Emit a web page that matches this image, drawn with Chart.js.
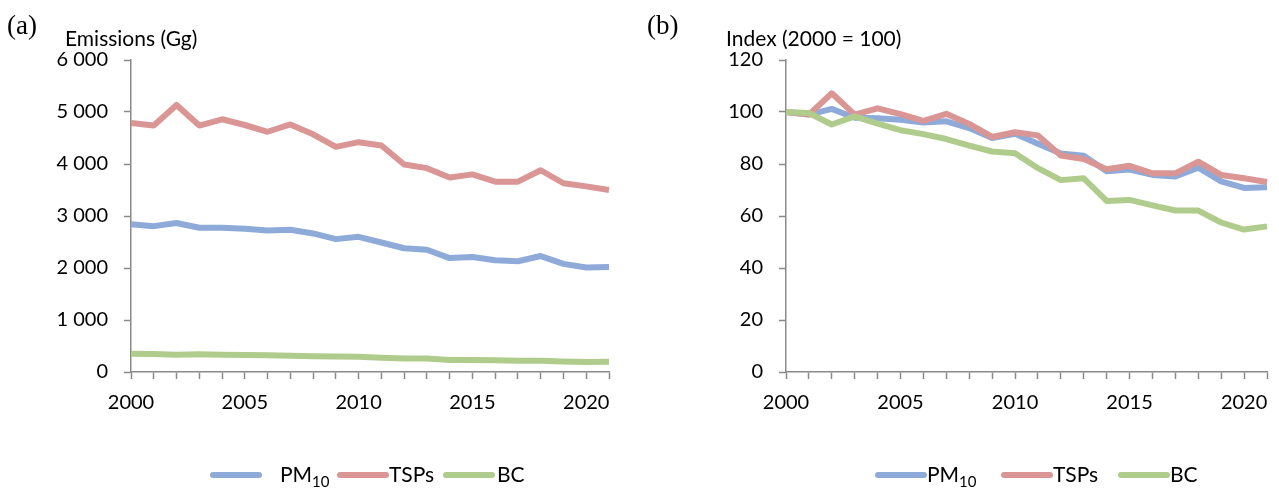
<!DOCTYPE html>
<html>
<head>
<meta charset="utf-8">
<script src="https://cdn.jsdelivr.net/npm/chart.js@4"></script>
<style>
  body { margin: 0; background: #fff; }
  #wrap { position: relative; width: 1279px; height: 489px; }
  canvas { position: absolute; top: 0; }
  #chartA { left: 0; }
  #chartB { left: 640px; }
</style>
</head>
<body>
<div id="wrap">
  <canvas id="chartA" width="640" height="489"></canvas>
  <canvas id="chartB" width="639" height="489"></canvas>
</div>
<script>
var years = ['2000','2001','2002','2003','2004','2005','2006','2007','2008','2009','2010',
             '2011','2012','2013','2014','2015','2016','2017','2018','2019','2020','2021'];

// panel (a): emissions in Gg
var pm10 = [2840, 2805, 2865, 2775, 2775, 2755, 2720, 2735, 2665, 2555, 2600,
            2490, 2380, 2350, 2190, 2210, 2150, 2130, 2230, 2080, 2010, 2020];
var tsps = [4790, 4740, 5135, 4740, 4860, 4750, 4620, 4760, 4570, 4330, 4420,
            4355, 3990, 3920, 3740, 3800, 3660, 3660, 3880, 3630, 3570, 3500];
var bc   = [350, 348, 333, 343, 334, 326, 320, 314, 305, 297, 294,
            275, 258, 261, 230, 232, 224, 217, 217, 201, 192, 196];

// panel (b): index, 2000 = 100
var pm10Index = [100, 99, 101.2, 97.8, 97.6, 97, 96, 96.4, 93.8, 90, 91.6,
                 87.8, 84, 83.2, 77.2, 77.9, 75.8, 75.2, 78.6, 73.3, 70.8, 71.1];
var tspsIndex = [100, 99, 107.2, 99, 101.4, 99.2, 96.6, 99.3, 95.4, 90.4, 92.2,
                 91, 83.3, 81.9, 78, 79.3, 76.4, 76.4, 80.9, 75.8, 74.5, 73.1];
var bcIndex   = [100, 99.6, 95.2, 98.3, 95.5, 93, 91.5, 89.6, 87.1, 84.8, 84.1,
                 78.4, 73.8, 74.5, 65.8, 66.2, 64.1, 62.1, 62.1, 57.5, 54.8, 56];

var seriesNames = ['PM10', 'TSPs', 'BC'];
var colors = ['#8eaad9', '#da9694', '#b0cc8c'];

var font = 'Lato, "Open Sans", sans-serif';
var axisGrey = '#8a8a8a';

// draws panel letter, y-axis title and the legend (PM with subscript 10)
var decorPlugin = {
  id: 'decor',
  afterDraw: function(chart) {
    var o = chart.options.plugins.decor;
    var ctx = chart.ctx;
    ctx.save();
    ctx.fillStyle = '#000';
    ctx.textBaseline = 'middle';
    ctx.textAlign = 'left';
    ctx.font = '27px "Liberation Serif", serif';
    ctx.fillText(o.panel, 7, 27);
    ctx.font = '21px ' + font;
    ctx.fillText(o.yTitle, o.yTitleX, 39);

    var y = 475;
    chart.data.datasets.forEach(function(ds, i) {
      var it = o.legend[i];
      ctx.strokeStyle = ds.borderColor;
      ctx.lineWidth = 6;
      ctx.lineCap = 'round';
      ctx.beginPath();
      ctx.moveTo(it.x + 3, y);
      ctx.lineTo(it.x + 49, y);
      ctx.stroke();
      ctx.fillStyle = '#000';
      ctx.font = '21px ' + font;
      var name = ds.label;
      var tx = it.tx;
      if (name === 'PM10') {
        ctx.fillText('PM', tx, y);
        var w = ctx.measureText('PM').width;
        ctx.font = '15px ' + font;
        ctx.fillText('10', tx + w, y + 7);
      } else {
        ctx.fillText(name, tx, y);
      }
    });
    ctx.restore();
  }
};

function makeChart(id, values, yMax, yStep, fmt, area, decor) {
  var datasets = values.map(function(v, i) {
    return {
      label: seriesNames[i],
      data: v,
      borderColor: colors[i],
      backgroundColor: colors[i],
      borderWidth: 6,
      pointRadius: 0,
      tension: 0,
      borderJoinStyle: 'round',
      order: 2 - i
    };
  });
  return new Chart(document.getElementById(id), {
    type: 'line',
    data: { labels: years, datasets: datasets },
    plugins: [decorPlugin],
    options: {
      responsive: false,
      animation: false,
      events: [],
      layout: { padding: { left: 0, right: area.padRight, top: 60, bottom: 0 } },
      plugins: {
        legend: { display: false },
        tooltip: { enabled: false },
        decor: decor
      },
      scales: {
        x: {
          type: 'category',
          offset: false,
          border: { color: axisGrey, width: 1.5 },
          grid: {
            drawOnChartArea: false,
            drawTicks: true,
            tickLength: 7,
            tickColor: axisGrey,
            tickWidth: 1.5
          },
          ticks: {
            autoSkip: false,
            maxRotation: 0,
            minRotation: 0,
            padding: 12,
            color: '#000',
            font: { family: font, size: 20 },
            callback: function(val) {
              var lab = this.getLabelForValue(val);
              return Number(lab) % 5 === 0 ? lab : '';
            }
          },
          afterFit: function(scale) { scale.height = 117; }
        },
        y: {
          min: 0,
          max: yMax,
          border: { color: axisGrey, width: 1.5 },
          grid: {
            drawOnChartArea: false,
            drawTicks: true,
            tickLength: 7,
            tickColor: axisGrey,
            tickWidth: 1.5
          },
          ticks: {
            stepSize: yStep,
            padding: 16,
            color: '#000',
            font: { family: font, size: 20 },
            callback: fmt
          },
          afterFit: function(scale) { scale.width = area.left; }
        }
      }
    }
  });
}

function spaced(v) {
  return String(v).replace(/\B(?=(\d{3})+(?!\d))/g, ' ');
}

makeChart('chartA', [pm10, tsps, bc], 6000, 1000, spaced,
  { left: 131, padRight: 31 },
  { panel: '(a)', yTitle: 'Emissions (Gg)', yTitleX: 65,
    legend: [{ x: 210, tx: 280 }, { x: 337, tx: 389 }, { x: 443, tx: 497 }] });

makeChart('chartB', [pm10Index, tspsIndex, bcIndex], 120, 20, function(v) { return v; },
  { left: 146, padRight: 6 },
  { panel: '(b)', yTitle: 'Index (2000 = 100)', yTitleX: 86,
    legend: [{ x: 235, tx: 287 }, { x: 361, tx: 413 }, { x: 478, tx: 530 }] });
</script>
</body>
</html>
